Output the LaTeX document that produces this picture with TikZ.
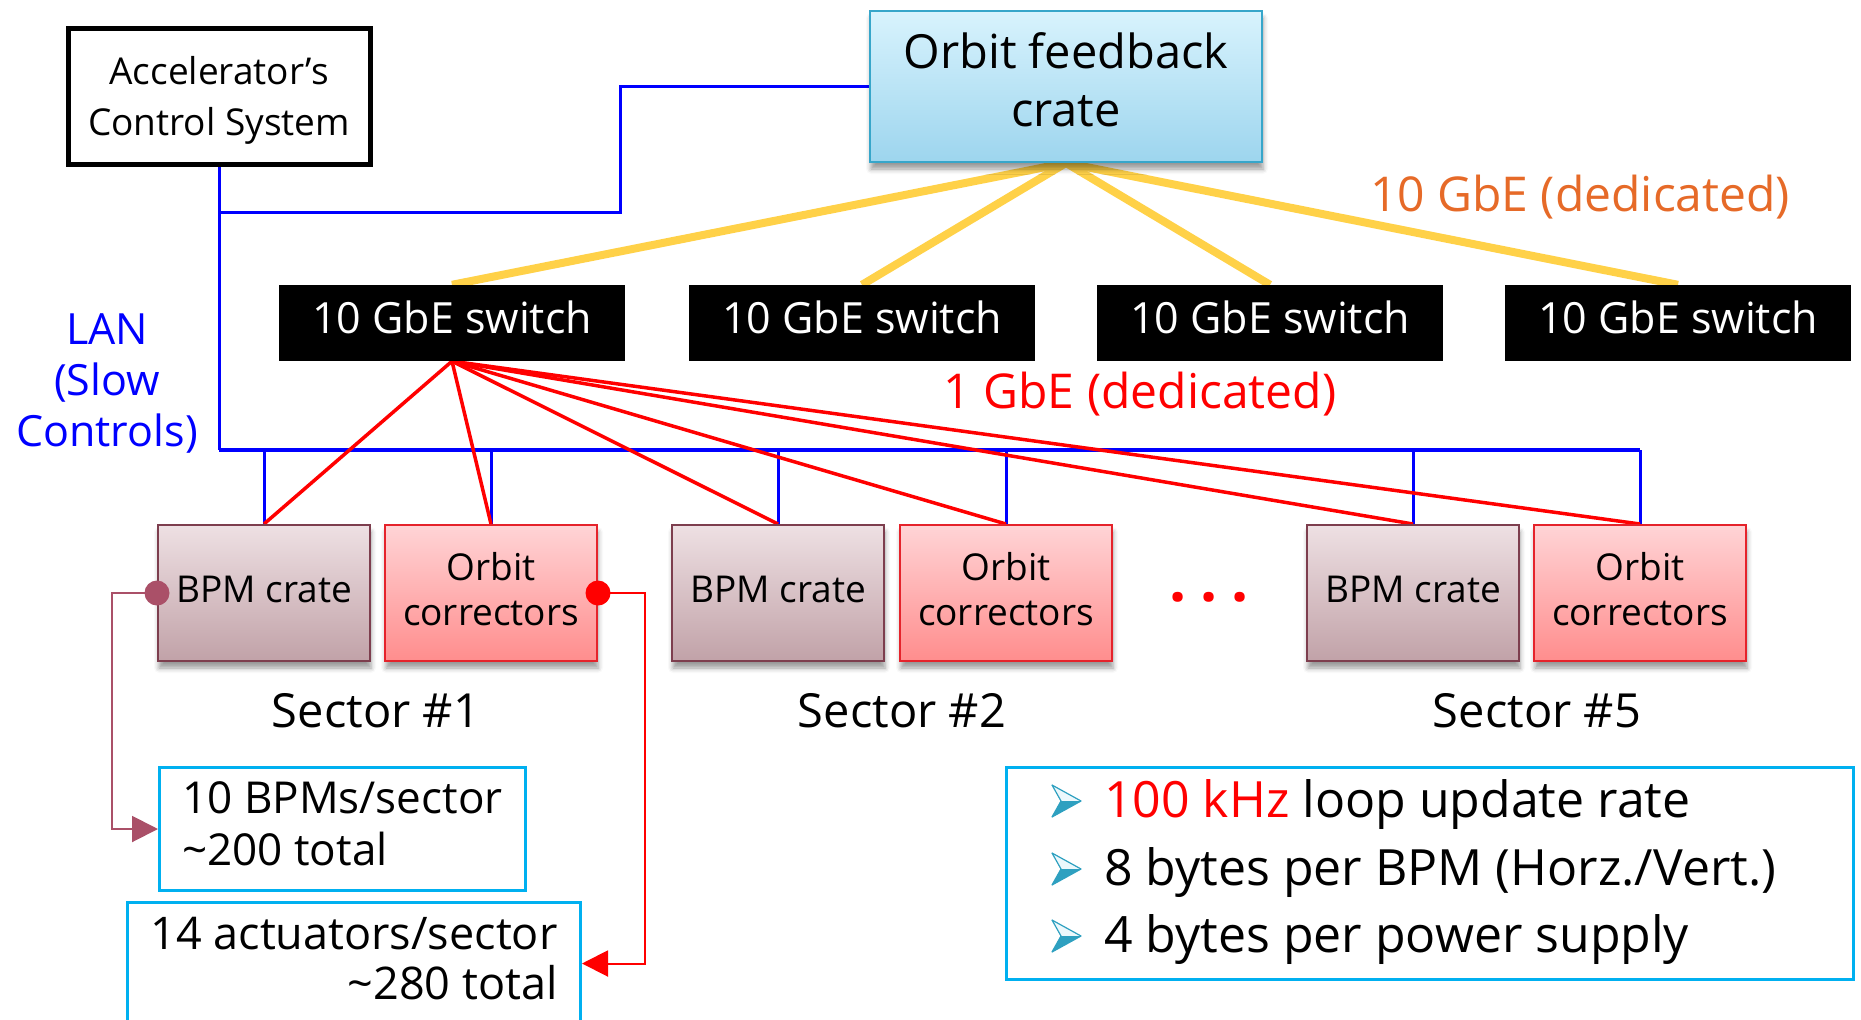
\documentclass[tikz,border=0pt]{standalone}
\usepackage{fontspec}
\setmainfont{Open Sans}
\usetikzlibrary{arrows.meta,shadows.blur}

\definecolor{lanblue}{RGB}{0,0,255}
\definecolor{gbered}{RGB}{255,0,0}
\definecolor{gold}{RGB}{255,209,72}
\definecolor{gbeorange}{RGB}{230,106,40}
\definecolor{crateframe}{RGB}{55,166,202}
\definecolor{cratetop}{RGB}{216,243,253}
\definecolor{cratebot}{RGB}{157,213,238}
\definecolor{bpmframe}{RGB}{125,62,78}
\definecolor{bpmtop}{RGB}{238,224,227}
\definecolor{bpmbot}{RGB}{193,162,168}
\definecolor{ocframe}{RGB}{229,35,43}
\definecolor{octop}{RGB}{255,212,214}
\definecolor{ocbot}{RGB}{255,141,141}
\definecolor{infoframe}{RGB}{0,176,240}
\definecolor{mauve}{RGB}{170,80,104}
\definecolor{bullettop}{RGB}{236,248,252}
\definecolor{bulletbot}{RGB}{46,160,192}

\newcommand{\fsz}[2]{\fontsize{#1}{#2}\selectfont}

\pgfdeclarelayer{wires}
\pgfsetlayers{wires,main}

\tikzset{
  softshadow/.style={blur shadow={shadow xshift=1pt,shadow yshift=-7pt,
      shadow blur radius=5pt,shadow opacity=40}},
  cratebase/.style={line width=2pt,minimum width=212pt,minimum height=136pt,
      inner sep=0pt,align=center,font=\fsz{37}{45},softshadow},
  bpmcrate/.style={cratebase,draw=bpmframe,top color=bpmtop,bottom color=bpmbot,text depth=7pt},
  corrcrate/.style={cratebase,draw=ocframe,top color=octop,bottom color=ocbot,text depth=9pt},
  switchbox/.style={fill=black,text=white,minimum width=346pt,minimum height=76pt,
      inner sep=0pt,font=\fsz{43}{50},text depth=12pt},
  infobox/.style={draw=infoframe,line width=3pt,inner sep=0pt,font=\fsz{44}{52}},
  sectorlabel/.style={anchor=base,inner sep=0pt,font=\fsz{47}{55}},
  lan/.style={draw=lanblue,line width=3pt},
  lanbus/.style={draw=lanblue,line width=4pt},
  gbeten/.style={draw=gold,line width=8pt},
  gbeone/.style={draw=gbered,line width=3.5pt},
  bulletarrow/.pic={
    \fill[bullettop] (0,-16) -- (29,0) -- (9,0) -- cycle;
    \fill[bulletbot] (9,0) -- (29,0) -- (0,16) -- cycle;
    \draw[bulletbot,line width=1.2pt,line join=round] (0,-16) -- (29,0) -- (0,16) -- (9,0) -- cycle;
  },
  noteline/.style={anchor=base west,inner sep=0pt,font=\fsz{50}{60}}
}

\begin{document}
\begin{tikzpicture}[x=1pt,y=-1pt]
\useasboundingbox (0,0) rectangle (1861,1020);

% control system and feedback crate
\node[draw=black,line width=5pt,minimum width=302pt,minimum height=136pt,inner sep=0pt,
      align=center,font=\fsz{37}{51},text depth=0pt] (acs) at (219,96)
      {Accelerator’s\\Control System};
\node[draw=crateframe,line width=2pt,top color=cratetop,bottom color=cratebot,
      minimum width=392pt,minimum height=151pt,inner sep=0pt,align=center,
      font=\fsz{47}{58},text depth=13pt,softshadow] (ofc) at (1066,86.5)
      {Orbit feedback\\crate};

% 10 GbE switches
\node[switchbox] (swA) at (452,323) {10 GbE switch};
\node[switchbox] (swB) at (862,323) {10 GbE switch};
\node[switchbox] (swC) at (1270,323) {10 GbE switch};
\node[switchbox] (swD) at (1678,323) {10 GbE switch};

% sector crates
\node[bpmcrate]  (bpmA) at (264,593)  {BPM crate};
\node[corrcrate] (ocA)  at (491,593)  {Orbit\\correctors};
\node[bpmcrate]  (bpmB) at (778,593)  {BPM crate};
\node[corrcrate] (ocB)  at (1006,593) {Orbit\\correctors};
\node[bpmcrate]  (bpmC) at (1413,593) {BPM crate};
\node[corrcrate] (ocC)  at (1640,593) {Orbit\\correctors};

\node[text=gbered,anchor=base,inner sep=0pt,font=\fsz{60}{60}\bfseries] (dots) at (1209,601)
      {.\hspace{14pt}.\hspace{14pt}.};

\node[sectorlabel] (secA) at (376,727)  {Sector \#1};
\node[sectorlabel] (secB) at (902,727)  {Sector \#2};
\node[sectorlabel] (secC) at (1537,727) {Sector \#5};

% link labels
\node[anchor=base,inner sep=0pt,text=gbeorange,font=\fsz{48}{55}] (tenlabel) at (1580,211) {10 GbE (dedicated)};
\node[anchor=base,inner sep=0pt,text=gbered,font=\fsz{48}{55}] (onelabel) at (1140,408) {1 GbE (dedicated)};
\node[align=center,inner sep=0pt,text=lanblue,font=\fsz{43}{51}] (lanlabel) at (107,383) {LAN\\(Slow\\Controls)};

% info boxes
\node[infobox,anchor=north west,minimum width=366pt,minimum height=123pt,
      align=left,text depth=11pt] (bpmInfo) at (158,766)
      {10 BPMs/sector\\\textasciitilde200 total};
\node[infobox,anchor=north east,minimum width=453pt,minimum height=122pt,
      align=right,text depth=10pt,font=\fsz{45}{50}] (actInfo) at (582,901)
      {14 actuators/sector\\\textasciitilde280 total};
\node[infobox,anchor=north west,minimum width=847pt,minimum height=212pt] (notes) at (1005,766) {};
\pic at (1052,801) {bulletarrow};
\pic at (1052,869) {bulletarrow};
\pic at (1052,936) {bulletarrow};
\node[noteline] (noteA) at (1104,817) {\textcolor{gbered}{100 kHz} loop update rate};
\node[noteline] (noteB) at (1104,885) {8 bytes per BPM (Horz./Vert.)};
\node[noteline] (noteC) at (1104,952) {4 bytes per power supply};

% connectors
\begin{pgfonlayer}{wires}
  \coordinate (lanKnee) at (620,212);
  \coordinate (busL) at (220,450);
  \draw[lan] (acs.south |- lanKnee) -- (lanKnee) |- (ofc.west);
  \draw[lan] (acs.south) -- (acs.south |- busL);
  \draw[lanbus] (acs.south |- busL) -- (ocC.north |- busL);
  \foreach \n in {bpmA,ocA,bpmB,ocB,bpmC,ocC}
    \draw[lan] (\n.north |- busL) -- (\n.north);
  \foreach \s in {swA,swB,swC,swD}
    \draw[gbeten] (ofc.south) -- (\s.north);
  \foreach \n in {bpmA,ocA,bpmB,ocB,bpmC,ocC}
    \draw[gbeone] (swA.south) -- (\n.north);
\end{pgfonlayer}

\draw[mauve,line width=2pt,-{Triangle[length=26pt,width=26pt]}]
  (bpmA.west) -- ++(-45,0) |- (bpmInfo.west);
\draw[gbered,line width=2pt,-{Triangle[length=26pt,width=26pt]}]
  (ocA.east) -- ++(47,0) |- (actInfo.east);
\fill[mauve] (bpmA.west) circle (12.5pt);
\fill[gbered] (ocA.east) circle (12.5pt);
\end{tikzpicture}
\end{document}
